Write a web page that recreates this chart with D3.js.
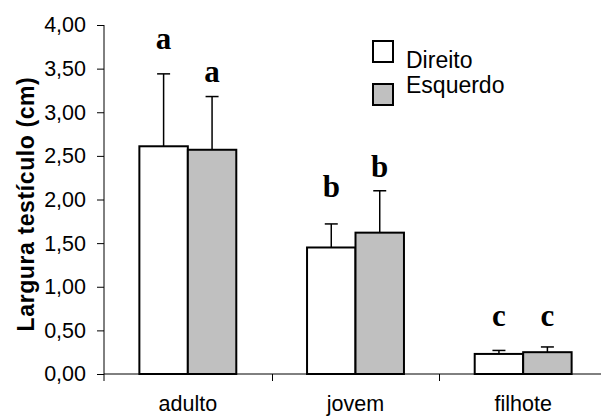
<!DOCTYPE html>
<html><head><meta charset="utf-8">
<script src="https://cdn.jsdelivr.net/npm/d3@7/dist/d3.min.js"></script>
<style>body{margin:0;background:#fff}svg{display:block}</style>
</head><body>
<svg id="chart" width="601" height="419"></svg>
<script>
const categories = ["adulto", "jovem", "filhote"];
const series = ["Direito", "Esquerdo"];
const seriesColors = ["#ffffff", "#c0c0c0"];
const direitoValues = [2.61, 1.45, 0.23];
const direitoErrors = [0.83, 0.27, 0.04];
const esquerdoValues = [2.57, 1.62, 0.25];
const esquerdoErrors = [0.61, 0.48, 0.06];
const direitoLetters = ["a", "b", "c"];
const esquerdoLetters = ["a", "b", "c"];
const direitoLetterY = [3.72, 2.03, 0.55];
const esquerdoLetterY = [3.35, 2.26, 0.55];
const yTicks = [0, 0.5, 1, 1.5, 2, 2.5, 3, 3.5, 4];
const yTitle = "Largura testículo (cm)";

const svg = d3.select("#chart");
const y = d3.scaleLinear().domain([0, 4]).range([374, 25]);
const x = d3.scaleBand().domain(categories).range([104, 607]).padding(0);
const xs = d3.scaleBand().domain(series).range([0, x.bandwidth()]).paddingInner(0).paddingOuter(0.73);

const data = [];
categories.forEach((c, i) => {
  data.push({cat: c, s: series[0], v: direitoValues[i], e: direitoErrors[i], l: direitoLetters[i], ly: direitoLetterY[i], fill: seriesColors[0]});
  data.push({cat: c, s: series[1], v: esquerdoValues[i], e: esquerdoErrors[i], l: esquerdoLetters[i], ly: esquerdoLetterY[i], fill: seriesColors[1]});
});

// Y axis
const yAxis = d3.axisLeft(y).tickValues(yTicks).tickSize(7).tickPadding(11)
  .tickFormat(d => d3.format(".2f")(d).replace(".", ","));
const gy = svg.append("g").attr("transform", "translate(104,0)").call(yAxis);
gy.select(".domain").attr("d", "M0,25V381").attr("stroke", "#000").attr("stroke-width", 1);
gy.selectAll(".tick line").attr("stroke", "#000");
gy.selectAll(".tick text").attr("font-family", "Liberation Sans, Arial, sans-serif").attr("font-size", 21.5).attr("fill", "#000");

// X axis
const xAxis = d3.axisBottom(x).tickSize(0).tickPadding(22);
const gx = svg.append("g").attr("transform", "translate(0,374)").call(xAxis);
gx.select(".domain").remove();
gx.selectAll(".tick text").attr("font-family", "Liberation Sans, Arial, sans-serif").attr("font-size", 21.5).attr("fill", "#000");
svg.append("line").attr("x1", 104).attr("x2", 601).attr("y1", 374).attr("y2", 374).attr("stroke", "#000");
const bounds = categories.map(c => x(c)).concat([x(categories[categories.length - 1]) + x.bandwidth()]);
svg.selectAll(".xb").data(bounds.slice(1)).join("line")
  .attr("x1", d => Math.round(d) + 0.5).attr("x2", d => Math.round(d) + 0.5)
  .attr("y1", 374).attr("y2", 381).attr("stroke", "#000");

// Y title
svg.append("text").attr("transform", "translate(34,204) rotate(-90)")
  .attr("text-anchor", "middle").attr("font-family", "Liberation Sans, Arial, sans-serif")
  .attr("font-weight", "bold").attr("font-size", 23).attr("letter-spacing", 0.6).text(yTitle);

// Bars
const bx = d => x(d.cat) + xs(d.s);
svg.selectAll(".bar").data(data).join("rect")
  .attr("x", bx).attr("y", d => y(d.v)).attr("width", xs.bandwidth()).attr("height", d => y(0) - y(d.v))
  .attr("fill", d => d.fill).attr("stroke", "#000").attr("stroke-width", 2);

// Error bars
const eb = svg.selectAll(".err").data(data).join("g");
eb.append("line").attr("x1", d => bx(d) + xs.bandwidth() / 2).attr("x2", d => bx(d) + xs.bandwidth() / 2)
  .attr("y1", d => y(d.v)).attr("y2", d => y(d.v + d.e)).attr("stroke", "#000").attr("stroke-width", 1.5);
eb.append("line").attr("x1", d => bx(d) + xs.bandwidth() / 2 - 6.5).attr("x2", d => bx(d) + xs.bandwidth() / 2 + 6.5)
  .attr("y1", d => y(d.v + d.e)).attr("y2", d => y(d.v + d.e)).attr("stroke", "#000").attr("stroke-width", 1.5);

// Letters
svg.selectAll(".let").data(data).join("text")
  .attr("x", d => bx(d) + xs.bandwidth() / 2).attr("y", d => y(d.ly))
  .attr("text-anchor", "middle").attr("font-family", "Liberation Serif, Times New Roman, serif")
  .attr("font-weight", "bold").attr("font-size", 31).text(d => d.l);

// Legend
const lg = svg.append("g");
series.forEach((s, i) => {
  lg.append("rect").attr("x", 373).attr("y", 41 + i * 43).attr("width", 20).attr("height", 21)
    .attr("fill", seriesColors[i]).attr("stroke", "#000").attr("stroke-width", 2);
  lg.append("text").attr("x", 406).attr("y", 68 + i * 25).attr("font-family", "Liberation Sans, Arial, sans-serif")
    .attr("font-size", 23).text(s);
});
</script>
</body></html>
